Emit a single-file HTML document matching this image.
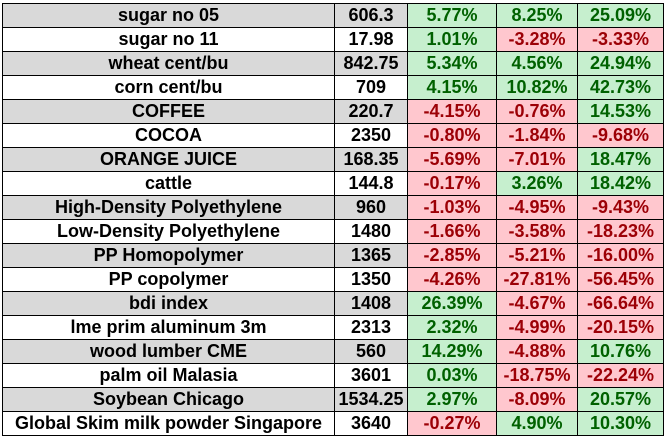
<!DOCTYPE html>
<html><head><meta charset="utf-8"><style>
body{margin:0;width:667px;height:440px;background:#fff;overflow:hidden}
table{position:absolute;left:2px;top:3px;border-collapse:collapse;font-family:"Liberation Sans",sans-serif;font-weight:bold;font-size:18px}
td{border:1px solid #000;height:23px;padding:0 1px;text-align:center;line-height:23px;color:#000;white-space:nowrap;overflow:hidden}
tr.g td.n,tr.g td.v{background:#d9d9d9}
td.p{background:#c6efce;color:#006100}
td.m{background:#ffc7ce;color:#9c0006}
</style></head><body>
<table>
<colgroup><col style="width:332px"><col style="width:73px"><col style="width:89px"><col style="width:81px"><col style="width:86px"></colgroup>
<tbody id="tb"></tbody></table>
<script>
const names=["sugar no 05","sugar no 11","wheat cent/bu","corn cent/bu","COFFEE","COCOA","ORANGE JUICE","cattle","High-Density Polyethylene","Low-Density Polyethylene","PP Homopolymer","PP copolymer","bdi index","lme prim aluminum 3m","wood lumber CME","palm oil Malasia","Soybean Chicago","Global Skim milk powder Singapore"];
const prices=["606.3","17.98","842.75","709","220.7","2350","168.35","144.8","960","1480","1365","1350","1408","2313","560","3601","1534.25","3640"];
const chg1=[5.77,1.01,5.34,4.15,-4.15,-0.80,-5.69,-0.17,-1.03,-1.66,-2.85,-4.26,26.39,2.32,14.29,0.03,2.97,-0.27];
const chg2=[8.25,-3.28,4.56,10.82,-0.76,-1.84,-7.01,3.26,-4.95,-3.58,-5.21,-27.81,-4.67,-4.99,-4.88,-18.75,-8.09,4.90];
const chg3=[25.09,-3.33,24.94,42.73,14.53,-9.68,18.47,18.42,-9.43,-18.23,-16.00,-56.45,-66.64,-20.15,10.76,-22.24,20.57,10.30];
const tb=document.getElementById('tb');
names.forEach((n,i)=>{
 const tr=document.createElement('tr');
 
 
 if(i%2==0)tr.className='g';
 const a=document.createElement('td');a.className='n';a.textContent=n;
 
 
 tr.appendChild(a);
 const b=document.createElement('td');b.className='v';b.textContent=prices[i];
 
 
 tr.appendChild(b);
 [chg1[i],chg2[i],chg3[i]].forEach((v,k)=>{
  const c=document.createElement('td');c.className=v>=0?'p':'m';c.textContent=v.toFixed(2)+'%';
  
  
  tr.appendChild(c);
 });
 tb.appendChild(tr);
});
</script>
</body></html>
